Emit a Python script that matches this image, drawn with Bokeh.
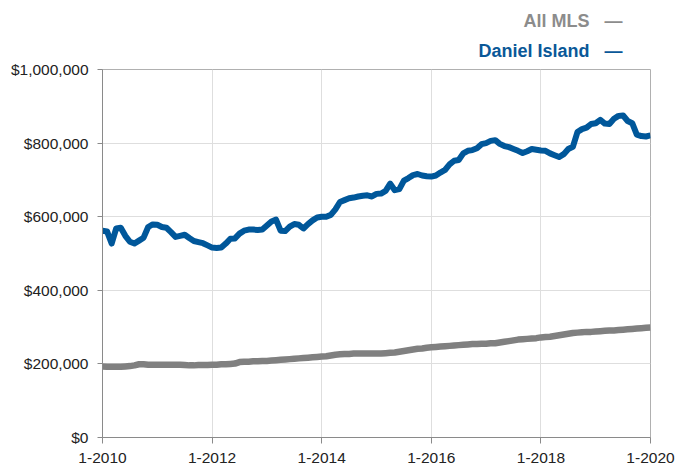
from bokeh.plotting import figure
from bokeh.models import Range1d, FixedTicker, NumeralTickFormatter, Title
from bokeh.embed import file_html
from bokeh.resources import INLINE

# monthly index, Jan 2010 .. Jan 2020
months = list(range(121))

# Median price, thousands of dollars
all_mls = [
    193, 192, 192, 192, 192, 193, 194, 196, 199, 199, 198, 198,
    198, 198, 198, 198, 198, 198, 197, 196, 196, 197, 197, 197,
    198, 198, 199, 199, 200, 201, 205, 206, 206, 207, 207, 208,
    208, 209, 210, 211, 212, 213, 214, 215, 216, 217, 218, 219,
    220, 221, 223, 225, 226, 227, 227, 228, 228, 228, 228, 228,
    228, 228, 229, 230, 231, 233, 235, 237, 239, 241, 242, 244,
    245, 246, 247, 248, 249, 250, 251, 252, 253, 254, 254, 255,
    255, 256, 256, 258, 260, 262, 264, 266, 267, 268, 269, 270,
    272, 273, 274, 276, 278, 280, 282, 284, 285, 286, 287, 287,
    288, 289, 290, 291, 291, 292, 293, 294, 295, 296, 297, 298,
    299,
]

daniel_island = [
    562, 560, 527, 568, 570, 548, 532, 527, 535, 543, 572, 579,
    578, 572, 570, 558, 545, 548, 551, 542, 534, 531, 528, 522,
    516, 515, 516, 527, 540, 541, 554, 562, 565, 565, 564, 565,
    576, 587, 592, 562, 561, 573, 580, 578, 568, 580, 590, 598,
    600, 600, 605, 620, 640, 645, 650, 652, 655, 657, 658, 655,
    662, 663, 670, 690, 672, 675, 698, 705, 713, 716, 712, 710,
    709, 712, 720, 727, 742, 752, 754, 772, 779, 781, 786, 797,
    800, 806, 808, 798, 792, 789, 784, 779, 773, 778, 784, 782,
    780, 779, 772, 767, 762, 770, 784, 790, 830, 838, 842, 852,
    854, 863, 853, 852, 866, 874, 875, 860, 854, 823, 819, 818,
    821,
]

x_ticks = [0, 24, 48, 72, 96, 120]
x_tick_labels = ["1-2010", "1-2012", "1-2014", "1-2016", "1-2018", "1-2020"]
y_ticks = [0, 200000, 400000, 600000, 800000, 1000000]

series_names = ["All MLS", "Daniel Island"]
series_colors = ["#808080", "#00579a"]
legend_text_colors = ["#8c8c8c", "#0a5898"]

p = figure(width=678, height=466, output_backend="svg", toolbar_location=None,
           title=None,
           x_range=Range1d(0, 120), y_range=Range1d(0, 1000000),
           min_border_left=102, min_border_right=28, min_border_top=69,
           min_border_bottom=29)

p.background_fill_color = "white"
p.border_fill_color = "white"
p.outline_line_color = "#b0b0b0"
p.outline_line_width = 1

font = "Liberation Sans"
for ax in (p.xaxis[0], p.yaxis[0]):
    ax.axis_line_color = "#8a8a8a"
    ax.axis_line_width = 1
    ax.major_tick_line_color = "#8a8a8a"
    ax.major_tick_in = 0
    ax.major_tick_out = 5
    ax.minor_tick_line_color = None
    ax.major_label_text_font = font
    ax.major_label_text_font_size = "15.5px"
    ax.major_label_text_color = "#222222"

p.xaxis.ticker = FixedTicker(ticks=x_ticks)
p.xaxis.major_label_overrides = {t: l for t, l in zip(x_ticks, x_tick_labels)}
p.xaxis.major_tick_out = 6
p.xaxis.major_label_standoff = 9
p.yaxis.ticker = FixedTicker(ticks=y_ticks)
p.yaxis.formatter = NumeralTickFormatter(format="$0,0")
p.yaxis.major_label_standoff = 9

p.xgrid.ticker = FixedTicker(ticks=x_ticks)
p.ygrid.ticker = FixedTicker(ticks=y_ticks)
p.xgrid.grid_line_color = "#dedede"
p.ygrid.grid_line_color = "#dedede"

p.line(months, [v * 1000 for v in all_mls], line_width=6.5,
       line_color=series_colors[0], line_join="round")
p.line(months, [v * 1000 for v in daniel_island], line_width=6,
       line_color=series_colors[1], line_join="round")

# Legend: right-aligned names with a dash, stacked above the frame
legend_font = "Liberation Sans"
gap = "\u00a0\u00a0\u00a0"
for name, tcol, stand in [(series_names[1], legend_text_colors[1], 18),
                          (series_names[0], legend_text_colors[0], -2)]:
    p.add_layout(Title(text=name + gap + "\u2014", align="right", offset=28,
                       standoff=stand, text_font=legend_font,
                       text_font_style="bold", text_font_size="18px",
                       text_color=tcol), "above")

open("out.html", "w").write(file_html(p, INLINE))
